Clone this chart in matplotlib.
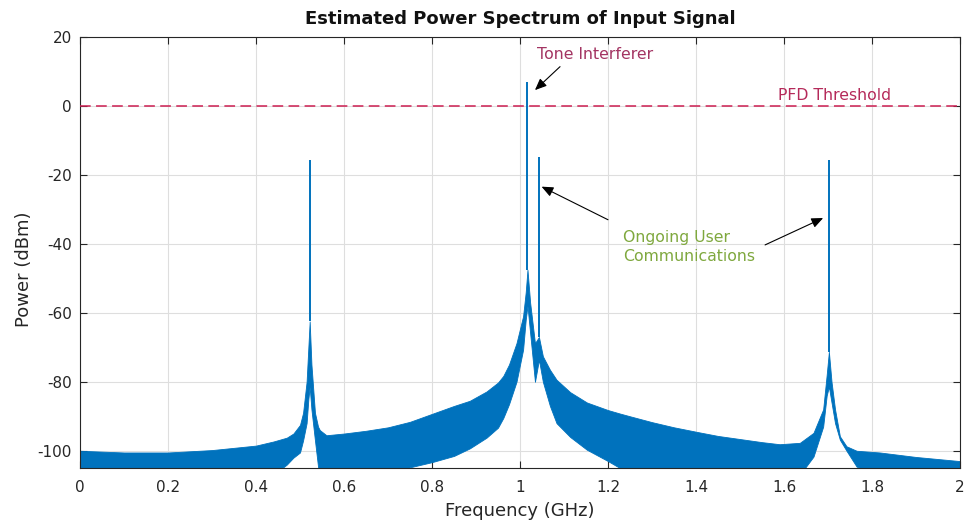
"""
Estimated power spectrum of the input signal, MATLAB-style look.
Envelope of the dense spectrum + the narrow tone spikes, read off the picture.
"""
import matplotlib
matplotlib.use("Agg")
import matplotlib.pyplot as plt
import numpy as np

# ── spectrum envelope (GHz, dBm): top and bottom of the dense blue band
freq_ghz = [0.00, 0.10, 0.20, 0.30, 0.40, 0.44, 0.47, 0.485, 0.50, 0.507,
            0.515, 0.519, 0.522, 0.526, 0.534, 0.541, 0.545, 0.56, 0.60, 0.65,
            0.70, 0.75, 0.80, 0.85, 0.886, 0.924, 0.95, 0.962, 0.975, 0.992,
            1.007, 1.013, 1.017, 1.023, 1.034, 1.043, 1.052, 1.068, 1.083, 1.114,
            1.152, 1.20, 1.227, 1.25, 1.30, 1.35, 1.405, 1.45, 1.50, 1.55,
            1.59, 1.636, 1.667, 1.689, 1.697, 1.702, 1.708, 1.716, 1.727, 1.742,
            1.765, 1.818, 1.90, 2.00]
upper_dbm = [-100.0, -100.5, -100.5, -99.8, -98.5, -97.3, -96.2, -95.0, -92.5, -89.0,
             -80.0, -70.0, -62.5, -75.0, -89.0, -93.0, -94.0, -95.5, -95.0, -94.2,
             -93.2, -91.6, -89.3, -87.0, -85.5, -82.8, -80.2, -78.3, -75.0, -68.8,
             -61.0, -54.0, -47.5, -57.0, -68.8, -67.0, -72.6, -76.5, -79.4, -83.0,
             -86.0, -88.2, -89.2, -90.0, -91.7, -93.2, -94.6, -95.7, -96.6, -97.5,
             -98.1, -97.7, -94.8, -88.0, -78.0, -71.3, -80.0, -88.0, -95.8, -98.7,
             -100.0, -100.5, -101.8, -103.0]
lower_dbm = [-107.0, -107.0, -107.0, -107.0, -107.0, -107.0, -104.0, -102.0, -100.5, -97.0,
             -92.0, -85.0, -81.5, -88.0, -97.0, -104.6, -107.0, -107.0, -107.0, -107.0,
             -106.0, -104.8, -103.3, -101.5, -99.3, -96.2, -93.3, -90.5, -86.5, -80.0,
             -70.7, -62.0, -58.0, -65.8, -80.0, -73.6, -80.0, -87.0, -92.0, -96.0,
             -99.7, -103.0, -105.0, -107.0, -107.0, -107.0, -107.0, -107.0, -107.0, -107.0,
             -107.0, -107.0, -101.7, -93.0, -84.0, -81.4, -86.0, -92.0, -96.8, -100.0,
             -104.6, -107.0, -107.0, -107.0]

# ── narrow spikes: position, top of the spike, where it meets the band
peak_ghz = [0.522, 1.017, 1.043, 1.702]
peak_top_dbm = [-15.7, 7.0, -14.8, -15.7]
peak_base_dbm = [-62.5, -47.5, -67.0, -71.3]

PFD_THRESHOLD_DBM = 0.0
X_TICKS = [0, 0.2, 0.4, 0.6, 0.8, 1.0, 1.2, 1.4, 1.6, 1.8, 2.0]
X_TICK_LABELS = ["0", "0.2", "0.4", "0.6", "0.8", "1", "1.2", "1.4", "1.6", "1.8", "2"]
Y_TICKS = [-100, -80, -60, -40, -20, 0, 20]

BLUE = "#0072BD"
RED = "#CC1F52"
GREEN = "#7FA83E"
INK = "#262626"

plt.rcParams["font.family"] = ["DejaVu Sans"]
plt.rcParams["axes.unicode_minus"] = False

fig = plt.figure(figsize=(9.66, 5.27), dpi=100)
ax = fig.add_axes([80 / 966, 59 / 527, 880 / 966, 431 / 527])

ax.fill_between(freq_ghz, lower_dbm, upper_dbm, color=BLUE, linewidth=0.6,
                edgecolor=BLUE, zorder=2)
ax.vlines(peak_ghz, peak_base_dbm, peak_top_dbm, color=BLUE, linewidth=1.4, zorder=3)

ax.axhline(PFD_THRESHOLD_DBM, color=RED, linewidth=1.1, dashes=(7, 3.5), zorder=4)

ax.set_xlim(0, 2)
ax.set_ylim(-105, 20)
ax.set_xticks(X_TICKS)
ax.set_xticklabels(X_TICK_LABELS)
ax.set_yticks(Y_TICKS)
ax.grid(True, color="#DEDEDE", linewidth=0.8, zorder=0)
ax.set_axisbelow(True)
ax.tick_params(direction="in", length=5, width=0.8, top=True, right=True,
               labelsize=11, colors=INK)
ax.tick_params(axis="x", pad=9)
ax.tick_params(axis="y", pad=6)
for sp in ax.spines.values():
    sp.set_color(INK)
    sp.set_linewidth(0.8)

ax.set_xlabel("Frequency (GHz)", fontsize=13, color=INK, labelpad=5)
ax.set_ylabel("Power (dBm)", fontsize=13, color=INK)
ax.yaxis.set_label_coords(-0.053, 0.46)
ax.set_title("Estimated Power Spectrum of Input Signal", fontsize=13,
             fontweight="bold", color="#111111", pad=9)

# annotations
ax.text(1.586, 0.8, "PFD Threshold", color="#B52A5A", fontsize=11.3, va="bottom", zorder=5)

arrow_kw = dict(arrowstyle="-|>,head_length=0.7,head_width=0.3", color="black",
                lw=0.8, shrinkA=0, shrinkB=0)
ax.text(1.039, 14.8, "Tone Interferer", color="#A33462", fontsize=11.3,
        va="center", ha="left")
ax.annotate("", xy=(1.034, 4.6), xytext=(1.091, 11.4), arrowprops=arrow_kw)

ax.text(1.234, -41.0, "Ongoing User\nCommunications", color=GREEN, fontsize=11.3,
        va="center", ha="left", linespacing=1.35)
ax.annotate("", xy=(1.049, -23.4), xytext=(1.200, -33.0), arrowprops=arrow_kw)
ax.annotate("", xy=(1.689, -32.5), xytext=(1.557, -40.3), arrowprops=arrow_kw)

fig.savefig("out.png", dpi=100)
